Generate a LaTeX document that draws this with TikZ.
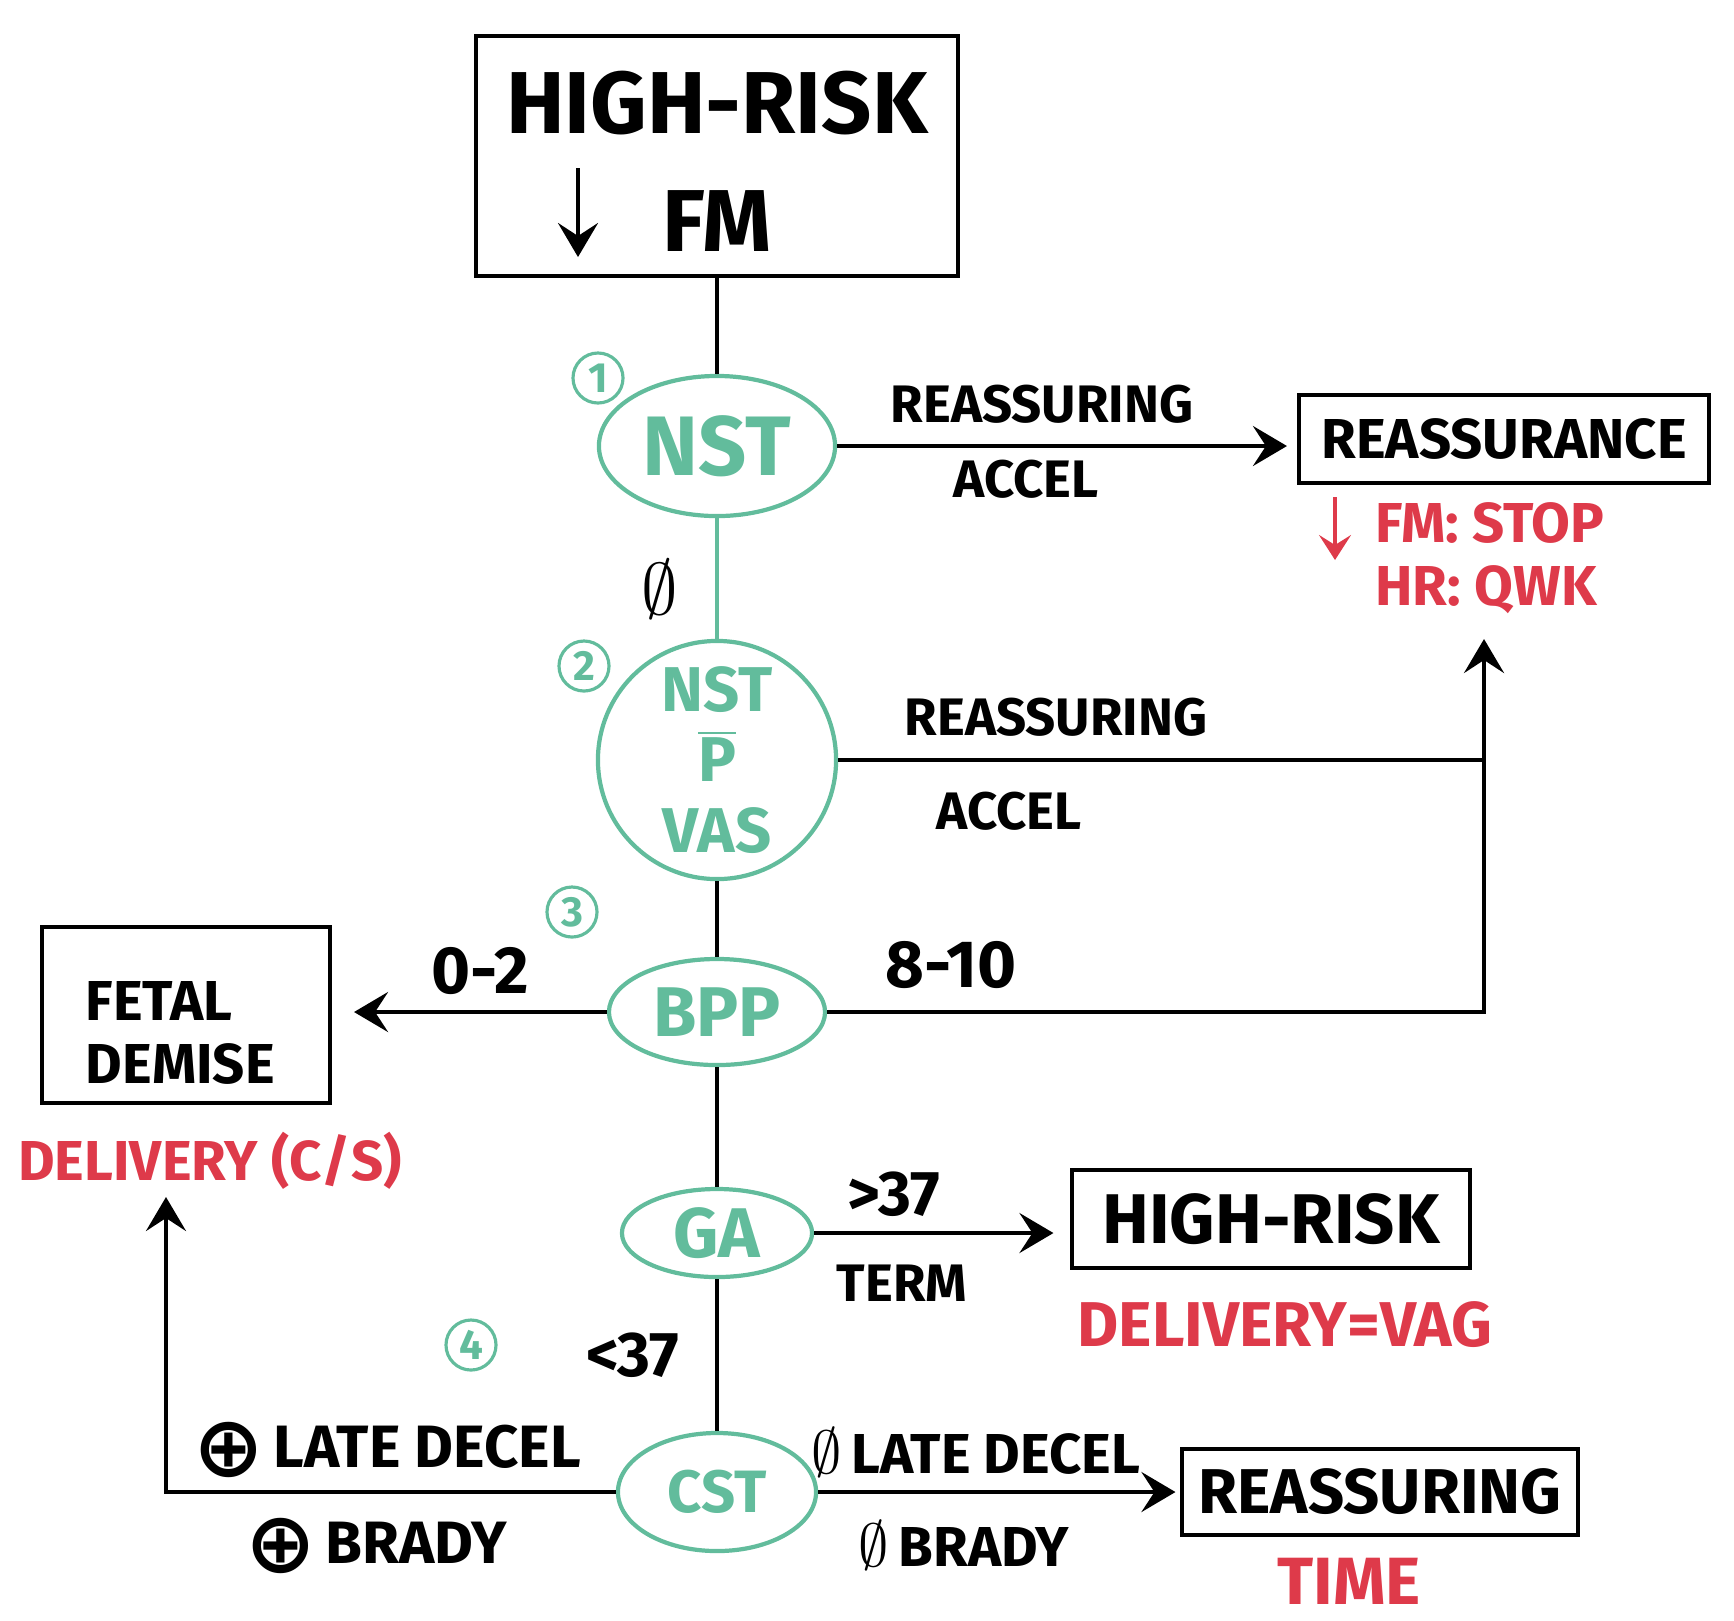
\documentclass[tikz,border=0pt]{standalone}
\usepackage{fontspec}
\setmainfont{Fira Sans}
\newfontfamily\symbolfont{DejaVu Sans}
\usetikzlibrary{shapes.geometric,arrows.meta}

\definecolor{testgreen}{RGB}{98,188,156}
\definecolor{notered}{RGB}{222,58,74}

\newcommand{\hand}[2]{\fontsize{#1}{#2}\selectfont\bfseries}
\newcommand{\posmark}{\raisebox{-0.9mm}{\symbolfont\fontsize{24}{24}\selectfont ⊕}}
\newcommand{\negmark}{{\fontsize{18}{18}\selectfont$\emptyset$}}

\tikzset{
  box/.style={draw, line width=1.1pt, inner sep=0pt},
  test/.style={ellipse, draw=testgreen, line width=1.2pt, text=testgreen, inner sep=0pt},
  stepnum/.style={circle, draw=testgreen, line width=0.9pt, text=testgreen, minimum size=5mm, inner sep=0pt, font=\hand{12}{12}},
  lbl/.style={font=\hand{15}{15}},
  note/.style={text=notered},
}

\begin{document}
\begin{tikzpicture}[x=0.01cm, y=-0.01cm, line width=1.1pt, >={Stealth[length=3.4mm,width=4mm,inset=1.3mm]}]
    \useasboundingbox (0,0) rectangle (1734,1620);

    % Top box
    \node[box, minimum width=4.82cm, minimum height=2.40cm] (top) at (717,156) {};
    \node[font=\hand{25}{25}] (toprisk) at (717,103) {HIGH-RISK};
    \node[font=\hand{25}{25}] (topfm) at (717,221) {FM};
    \coordinate (fmdowna) at (578,168);
    \coordinate (fmdownb) at (578,257);
    \draw[->] (fmdowna) -- (fmdownb);

    % Tests (green)
    \node[test, minimum width=2.36cm, minimum height=1.40cm, font=\hand{24}{24}] (nst) at (717,446) {NST};
    \node[test, circle, minimum size=2.38cm, align=center, font=\hand{18}{20}] (nst2) at (717,760) {NST\\$\overline{\hbox{P}}$\\VAS};
    \node[test, minimum width=2.16cm, minimum height=1.06cm, font=\hand{20}{20}] (bpp) at (717,1012) {BPP};
    \node[test, minimum width=1.90cm, minimum height=0.88cm, font=\hand{20}{20}] (ga) at (717,1233) {GA};
    \node[test, minimum width=1.98cm, minimum height=1.18cm, font=\hand{17}{17}] (cst) at (717,1492) {CST};
    \node[stepnum] (one) at (598,378) {1};
    \node[stepnum] (two) at (584,666) {2};
    \node[stepnum] (three) at (572,912) {3};
    \node[stepnum] (four) at (471,1345) {4};

    % Outcome boxes and notes
    \node[box, minimum width=4.10cm, minimum height=0.88cm, font=\hand{16}{16}] (reass) at (1504,439) {REASSURANCE};
    \node[note, align=left, font=\hand{16}{18}] (stopnote) at (1490,558) {FM: STOP\\HR: QWK};
    \coordinate (stopa) at (1335,497);
    \coordinate (stopb) at (1335,560);
    \draw[notered, line width=0.9pt, -{Stealth[length=2.5mm,width=3.2mm,inset=1mm]}] (stopa) -- (stopb);

    \node[box, minimum width=2.88cm, minimum height=1.76cm, align=left, font=\hand{16}{18}, text depth=0pt] (demise) at (186,1015) {\raisebox{0.1mm}{\parbox{2.0cm}{FETAL\\DEMISE}}};
    \node[note, font=\hand{16}{16}] (delcs) at (210,1161) {DELIVERY (C/S)};
    \node[box, minimum width=3.97cm, minimum height=0.98cm, font=\hand{20}{20}] (highrisk) at (1271,1219) {HIGH-RISK};
    \node[note, font=\hand{18}{18}] (delvag) at (1285,1325) {DELIVERY=VAG};
    \node[box, minimum width=3.95cm, minimum height=0.86cm, font=\hand{18}{18}] (reassuring) at (1380,1492) {REASSURING};
    \node[note, font=\hand{19}{19}] (time) at (1349,1581) {TIME};

    % Branch labels
    \node[lbl] (nstyes) at (1042,404) {REASSURING};
    \node[lbl] (nstacc) at (1026,479) {ACCEL};
    \node[font=\hand{22}{22}] (nstno) at (660,589) {$\emptyset$};
    \node[lbl] (vasyes) at (1056,717) {REASSURING};
    \node[lbl] (vasacc) at (1009,811) {ACCEL};
    \node[font=\hand{19}{19}] (bpphi) at (951,965) {8-10};
    \node[font=\hand{19}{19}] (bpplo) at (480,971) {0-2};
    \node[font=\hand{18}{18}] (gaterm) at (894,1194) {>37};
    \node[lbl] (gatermlbl) at (902,1283) {TERM};
    \node[font=\hand{18}{18}] (gapre) at (633,1355) {<37};
    \node[font=\hand{17}{17}] (cstpos1) at (387,1450) {\posmark\,LATE DECEL};
    \node[font=\hand{17}{17}] (cstpos2) at (376,1546) {\posmark\,BRADY};
    \node[font=\hand{16}{16}] (cstneg1) at (976,1452) {\negmark\,LATE DECEL};
    \node[font=\hand{16}{16}] (cstneg2) at (964,1545) {\negmark\,BRADY};

    % Main chain
    \foreach \a/\b in {top/nst, nst2/bpp, bpp/ga, ga/cst} {
        \draw (\a) -- (\b);
    }
    \draw[testgreen, line width=1.2pt] (nst) -- (nst2);

    % Branches
    \coordinate (upright) at (1484,639);
    \coordinate (upleft) at (166,1197);
    \draw[->, shorten >=1mm] (nst.east) -- (nst.east -| reass.west);
    \draw (nst2.east) -- (nst2.east -| upright);
    \draw[->] (bpp.east) -| (upright);
    \draw[->, shorten >=2.2mm] (bpp.west) -- (bpp.west -| demise.east);
    \draw[->, shorten >=1.7mm] (ga.east) -- (ga.east -| highrisk.west);
    \draw[->, shorten >=0.5mm] (cst.east) -- (cst.east -| reassuring.west);
    \draw[->] (cst.west) -| (upleft);
\end{tikzpicture}
\end{document}
